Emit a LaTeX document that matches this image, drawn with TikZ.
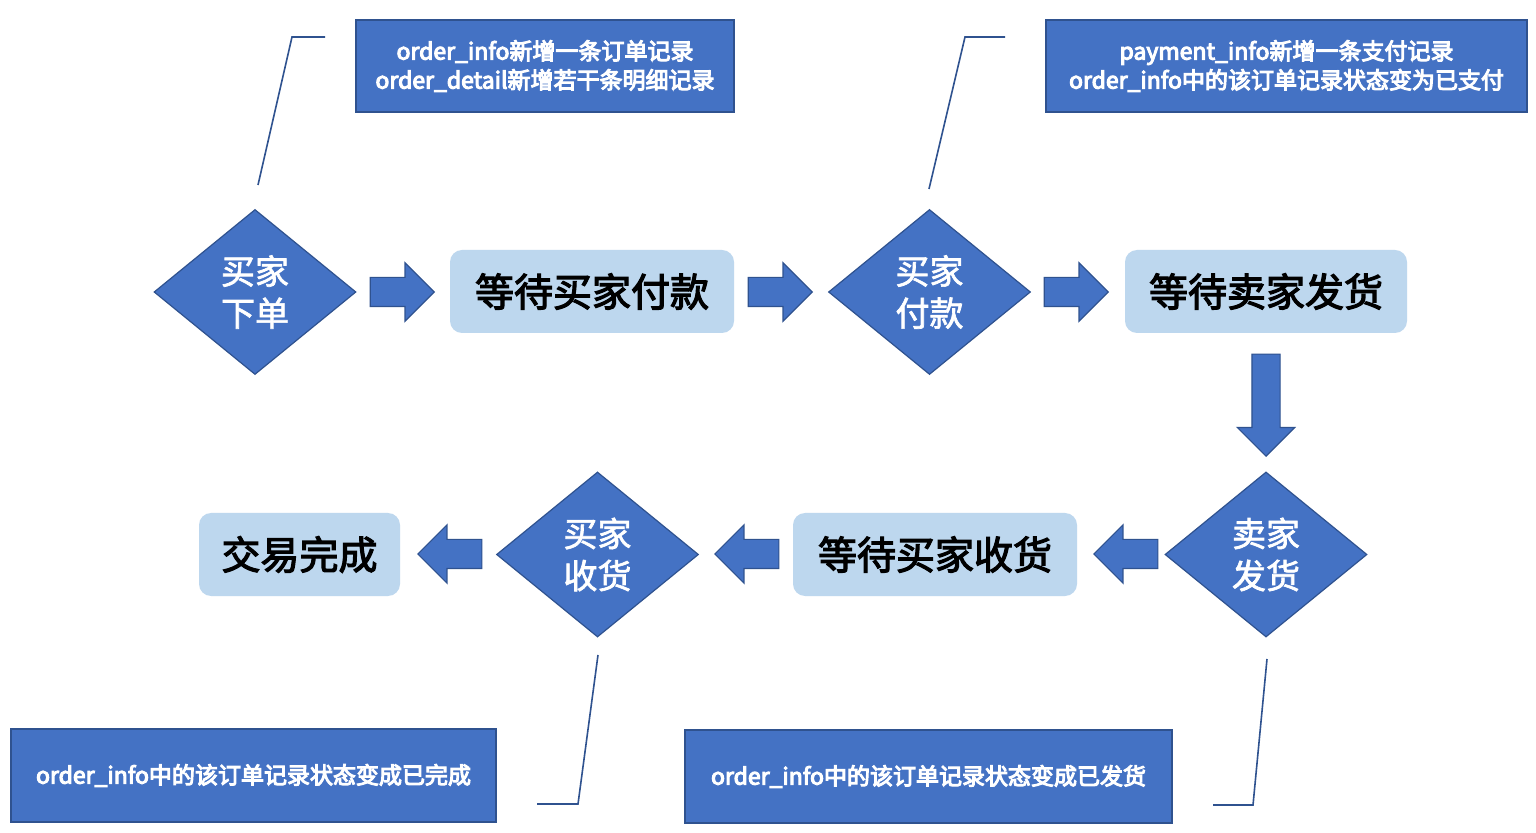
\documentclass[tikz,border=0pt]{standalone}
\usepackage{fontspec}
\setmainfont{Noto Sans CJK SC}
\newfontfamily\medfont{Noto Sans CJK SC}[FakeBold=3]
\newfontfamily\notefont{Noto Sans CJK SC}[FakeBold=4.5]
\newfontfamily\semifont{Noto Sans CJK SC}[FakeBold=2]
\usetikzlibrary{shapes.geometric,shapes.arrows}
\definecolor{mblue}{HTML}{4472C4}
\definecolor{dblue}{HTML}{2F528F}
\definecolor{lblue}{HTML}{BDD7EE}
\tikzset{
  decision/.style={diamond, draw=dblue, line width=0.6pt, fill=mblue, text=white,
    minimum width=101pt, minimum height=82.5pt, aspect=1.224, inner sep=0pt,
    align=center, font=\semifont\fontsize{17}{21}\selectfont},
  waitbox/.style={rectangle, rounded corners=6pt, fill=lblue, text=black,
    minimum width=142pt, minimum height=41.5pt, inner sep=0pt,
    font=\medfont\fontsize{19.5}{24}\selectfont},
  notebox/.style={rectangle, draw=dblue, line width=1pt, fill=mblue, text=white,
    inner sep=0pt, align=center, font=\notefont\fontsize{11.5}{14.5}\selectfont},
  blockarrow/.style={single arrow, draw=dblue, line width=0.6pt, fill=mblue,
    inner xsep=0pt, inner ysep=7pt, minimum width=28.5pt, minimum height=32pt,
    single arrow head extend=7.25pt, single arrow tip angle=90, anchor=tip},
  callout/.style={draw=dblue, line width=0.8pt}
}
\begin{document}
\begin{tikzpicture}[x=0.5pt,y=-0.5pt]
\useasboundingbox (0,0) rectangle (1536,833);
\fill[white] (0,0) rectangle (1536,833);

% decisions
\node[decision] (d1) at (255,292) {买家\\下单};
\node[decision] (d2) at (929.5,292) {买家\\付款};
\node[decision] (d3) at (1266,554.5) {卖家\\发货};
\node[decision] (d4) at (597.5,554.5) {买家\\收货};

% waiting states
\node[waitbox] (w1) at (592,291.5) {等待买家付款};
\node[waitbox, minimum width=141pt] (w2) at (1266,291.5) {等待卖家发货};
\node[waitbox] (w3) at (935,554.5) {等待买家收货};
\node[waitbox, minimum width=100.5pt] (w4) at (299.5,554.5) {交易完成};

% block arrows (placed by their tips)
\node[blockarrow] (a1) at (435,292) {};
\node[blockarrow] (a2) at (813,292) {};
\node[blockarrow] (a3) at (1109,292) {};
\node[blockarrow, shape border rotate=270, minimum height=51pt, inner xsep=6.75pt,
  inner ysep=0pt, minimum width=28pt] (a4) at (1266,457) {};
\node[blockarrow, shape border rotate=180] (a5) at (1093,554) {};
\node[blockarrow, shape border rotate=180] (a6) at (714,554) {};
\node[blockarrow, shape border rotate=180] (a7) at (417,554) {};

% notes
\node[notebox, minimum width=189pt, minimum height=46pt] (n1) at (545,66)
  {order\_info新增一条订单记录\\order\_detail新增若干条明细记录};
\node[notebox, minimum width=240.5pt, minimum height=46pt] (n2) at (1286.5,66)
  {payment\_info新增一条支付记录\\order\_info中的该订单记录状态变为已支付};
\node[notebox, minimum width=242.5pt, minimum height=46.5pt] (n3) at (253.5,775.5)
  {order\_info中的该订单记录状态变成已完成};
\node[notebox, minimum width=243.5pt, minimum height=46.5pt] (n4) at (928.5,776.5)
  {order\_info中的该订单记录状态变成已发货};

% callout lines
\coordinate (c1a) at (258,185); \coordinate (c1b) at (292,37); \coordinate (c1c) at (325,37);
\coordinate (c2a) at (929,189); \coordinate (c2b) at (965,37); \coordinate (c2c) at (1005,37);
\coordinate (c3a) at (598,655); \coordinate (c3b) at (578,804); \coordinate (c3c) at (537,804);
\coordinate (c4a) at (1267,659); \coordinate (c4b) at (1253,805); \coordinate (c4c) at (1213,805);
\draw[callout] (c1a) -- (c1b) -- (c1c);
\draw[callout] (c2a) -- (c2b) -- (c2c);
\draw[callout] (c3a) -- (c3b) -- (c3c);
\draw[callout] (c4a) -- (c4b) -- (c4c);
\end{tikzpicture}
\end{document}
